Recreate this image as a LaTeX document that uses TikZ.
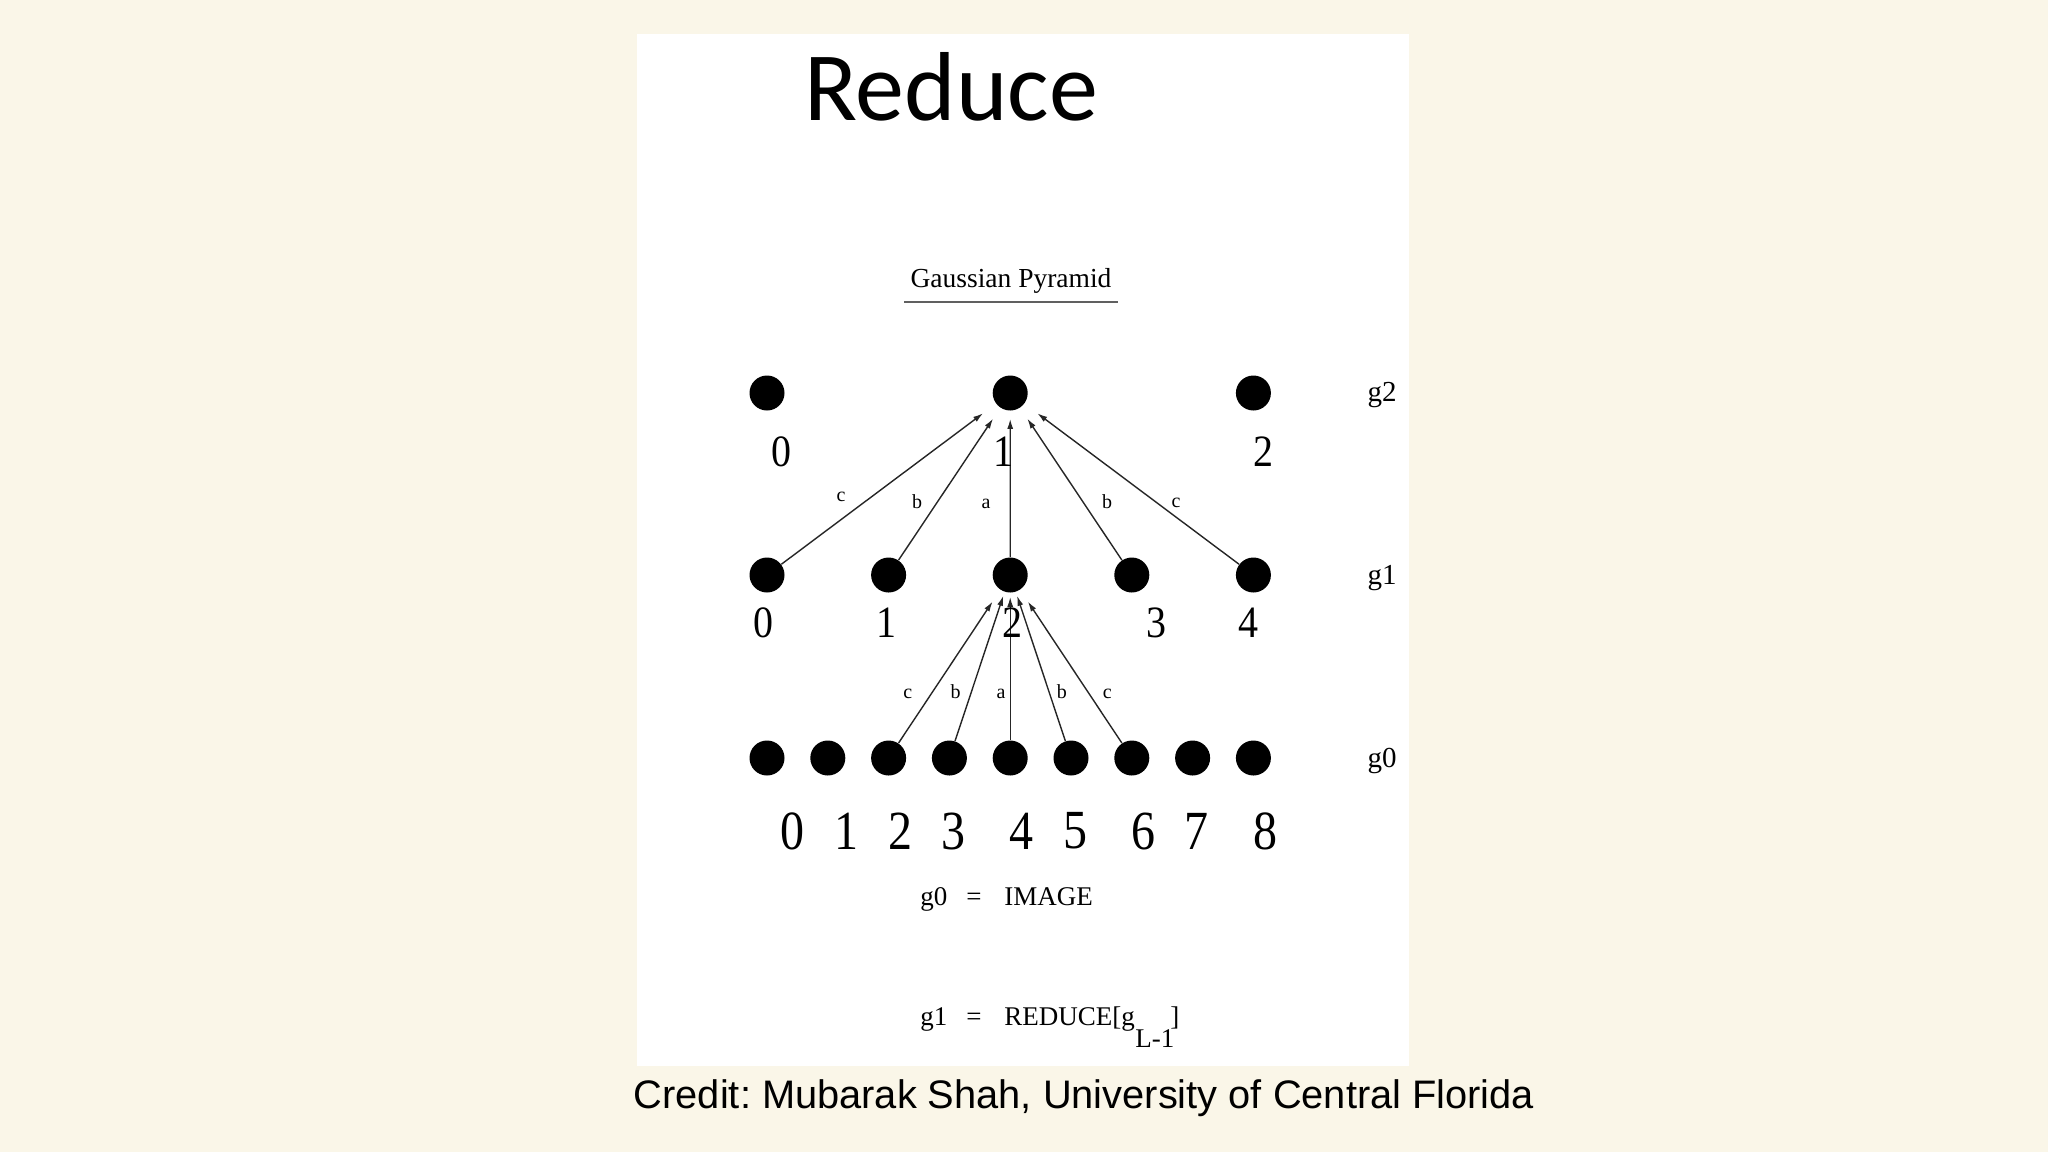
\documentclass[tikz,border=0pt]{standalone}
\usepackage{fontspec}
\setmainfont{Liberation Serif}
\newfontfamily\titlefont{Carlito}
\newfontfamily\creditfont{Liberation Sans}
\usetikzlibrary{arrows.meta}
\definecolor{bgc}{HTML}{FAF6E8}
\newcommand\tallnum[2]{\scalebox{1}[#1]{#2}}
\frenchspacing
\begin{document}
\begin{tikzpicture}[x=0.5pt,y=-0.5pt,
  dot/.style={circle,fill=black,minimum size=17.5pt,inner sep=0pt},
  lvl/.style={inner sep=0pt,anchor=base,font=\fontsize{14.5}{16}\selectfont},
  numA/.style={inner sep=0pt,font=\fontsize{20}{22}\selectfont},
  numB/.style={inner sep=0pt,font=\fontsize{24}{26}\selectfont},
  wlab/.style={inner sep=0pt,anchor=base,font=\fontsize{10}{12}\selectfont},
  eqtxt/.style={inner sep=0pt,anchor=base west,font=\fontsize{13.5}{15}\selectfont},
  arr/.style={draw=black!85,line width=0.7pt,-{Latex[length=5pt,width=3pt]}}]
% background and panel
\path[fill=bgc] (0,0) rectangle (2048,1152);
\path[fill=white] (637,34) rectangle (1409,1066);
% title
\node[inner sep=0pt,anchor=base,font=\titlefont\fontsize{49}{55}\selectfont] (title) at (951,120) {Reduce};
\node[inner sep=0pt,anchor=base,font=\fontsize{13.75}{15}\selectfont] (sub) at (1011,287) {Gaussian Pyramid};
\coordinate (ulA) at (904,302);
\coordinate (ulB) at (1118,302);
\draw[gray!75!black,line width=1pt] (ulA) -- (ulB);
% dots
\foreach \i in {0,...,8}{
  \node[dot] (a\i) at ({767+60.8*\i},758) {};
}
\foreach \j in {0,...,4}{
  \node[dot] (b\j) at ({767+121.6*\j},575) {};
}
\node[dot] (c0) at (767,393) {};
\node[dot] (c1) at (1010.2,393) {};
\node[dot] (c2) at (1253.4,393) {};
% level labels
\node[lvl] (lg2) at (1382,401) {g2};
\node[lvl] (lg1) at (1382,584) {g1};
\node[lvl] (lg0) at (1382,767) {g0};
% upper arrows
\draw[arr,shorten >=8pt] (b0) -- (c1);
\draw[arr,shorten >=6.5pt] (b1) -- (c1);
\draw[arr,shorten >=4pt] (b2) -- (c1);
\draw[arr,shorten >=6.5pt] (b3) -- (c1);
\draw[arr,shorten >=8pt] (b4) -- (c1);
% lower arrows
\draw[arr,shorten >=7pt] (a2) -- (b2);
\draw[arr,shorten >=2pt] (a3) -- (b2);
\draw[arr,shorten >=2pt] (a4) -- (b2);
\draw[arr,shorten >=2pt] (a5) -- (b2);
\draw[arr,shorten >=7pt] (a6) -- (b2);
% g2 numbers
\node[numA] (n20) at (781,452) {\tallnum{1.12}{0}};
\node[numA] (n21) at (1003,452) {\tallnum{1.12}{1}};
\node[numA] (n22) at (1263,452) {\tallnum{1.12}{2}};
% g1 numbers
\node[numA] (n10) at (763,623) {\tallnum{1.12}{0}};
\node[numA] (n11) at (886,623) {\tallnum{1.12}{1}};
\node[numA] (n12) at (1012,623) {\tallnum{1.12}{2}};
\node[numA] (n13) at (1156,623) {\tallnum{1.12}{3}};
\node[numA] (n14) at (1248,623) {\tallnum{1.12}{4}};
% g0 numbers
\node[numB] (n00) at (792,831) {\tallnum{1.15}{0}};
\node[numB] (n01) at (846.7,831) {\tallnum{1.15}{1}};
\node[numB] (n02) at (900,831) {\tallnum{1.15}{2}};
\node[numB] (n03) at (953,831) {\tallnum{1.15}{3}};
\node[numB] (n04) at (1021.7,831) {\tallnum{1.15}{4}};
\node[numB] (n05) at (1075,831) {\tallnum{1.15}{5}};
\node[numB] (n06) at (1143,831) {\tallnum{1.15}{6}};
\node[numB] (n07) at (1196.7,831) {\tallnum{1.15}{7}};
\node[numB] (n08) at (1265,831) {\tallnum{1.15}{8}};
% weight labels upper
\node[wlab] (wu1) at (841,501) {c};
\node[wlab] (wu2) at (917,508) {b};
\node[wlab] (wu3) at (986,508) {a};
\node[wlab] (wu4) at (1107,508) {b};
\node[wlab] (wu5) at (1176,507) {c};
% weight labels lower
\node[wlab] (wl1) at (907.8,698) {c};
\node[wlab] (wl2) at (955.5,698) {b};
\node[wlab] (wl3) at (1001,698) {a};
\node[wlab] (wl4) at (1061.8,698) {b};
\node[wlab] (wl5) at (1107.3,698) {c};
% equations
\node[eqtxt] (e1a) at (920,905) {g0};
\node[eqtxt,anchor=base] (e1b) at (974,905) {=};
\node[eqtxt] (e1c) at (1004,905) {IMAGE};
\node[eqtxt] (e2a) at (920,1025) {g1};
\node[eqtxt,anchor=base] (e2b) at (974,1025) {=};
\node[eqtxt] (e2c) at (1004,1025) {REDUCE[g};
\node[eqtxt] (e2d) at (1135,1047) {L-1};
\node[eqtxt] (e2e) at (1170,1025) {]};
% credit
\node[inner sep=0pt,anchor=base,font=\creditfont\fontsize{19.9}{22}\selectfont] (credit) at (1084,1108) {Credit: Mubarak Shah, University of Central Florida};
\end{tikzpicture}
\end{document}
